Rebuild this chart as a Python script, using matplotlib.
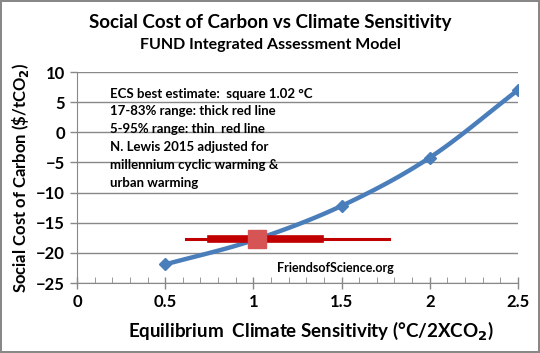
import matplotlib
matplotlib.use("Agg")
import matplotlib.pyplot as plt
import numpy as np

# SCC curve (FUND model) vs ECS
ecs = [0.5, 1.0, 1.5, 2.0, 2.5]
scc = [-21.9, -17.9, -12.2, -4.2, 7.0]

# Lewis 2015 adjusted estimate
best_ecs = 1.02
best_scc = -17.7
range_17_83 = [0.76, 1.38]
range_5_95 = [0.62, 1.77]

note_lines = [
    "ECS best estimate:  square 1.02 \u00b0C",
    "17-83% range: thick red line",
    "5-95% range: thin  red line",
    "N. Lewis 2015 adjusted for",
    "millennium cyclic warming &",
    "urban warming",
]


def smooth(x, y, n=30):
    # Catmull-Rom style path through the points (like Excel smoothed lines)
    x = np.asarray(x, float)
    y = np.asarray(y, float)
    px = np.concatenate([[2 * x[0] - x[1]], x, [2 * x[-1] - x[-2]]])
    py = np.concatenate([[2 * y[0] - y[1]], y, [2 * y[-1] - y[-2]]])
    xs, ys = [], []
    t = np.linspace(0, 1, n)
    for i in range(1, len(px) - 2):
        for p, out in ((px, xs), (py, ys)):
            p0, p1, p2, p3 = p[i - 1], p[i], p[i + 1], p[i + 2]
            out.extend(0.5 * (2 * p1 + (-p0 + p2) * t + (2 * p0 - 5 * p1 + 4 * p2 - p3) * t ** 2
                              + (-p0 + 3 * p1 - 3 * p2 + p3) * t ** 3))
    return xs, ys


plt.rcParams['font.family'] = ['Lato', 'DejaVu Sans']
plt.rcParams['font.weight'] = 'bold'
plt.rcParams['axes.labelweight'] = 'bold'

fig = plt.figure(figsize=(5.4, 3.53), dpi=100)
fig.patch.set_edgecolor('#888888')
fig.patch.set_linewidth(1.5)
ax = fig.add_axes([0.1426, 0.198, 0.8164, 0.598])

blue = '#4a7ebb'
sx, sy = smooth(ecs, scc)
ax.plot(sx, sy, color=blue, lw=3.2, zorder=3, solid_capstyle='round')
ax.plot(ecs, scc, 'D', color=blue, ms=6.5, zorder=4)

ax.plot(range_5_95, [best_scc, best_scc], color='#c00000', lw=2.2, zorder=5)
ax.plot(range_17_83, [best_scc, best_scc], color='#c00000', lw=5.5, zorder=5)
ax.plot([best_ecs], [best_scc], 's', color='#d65454', ms=13, zorder=6)

ax.set_xlim(0, 2.5)
ax.set_ylim(-25, 10)
ax.set_xticks(np.arange(0, 2.51, 0.5))
ax.set_xticklabels(['0', '0.5', '1', '1.5', '2', '2.5'])
ax.set_xticks(np.arange(0, 2.51, 0.1), minor=True)
ax.set_yticks(np.arange(-25, 10.1, 5))
ax.grid(axis='y', color='#888888', lw=1)
ax.set_axisbelow(True)
for s in ['top', 'right']:
    ax.spines[s].set_visible(False)
ax.spines['left'].set_color('#888888')
ax.spines['bottom'].set_color('#888888')
ax.tick_params(axis='both', which='major', labelsize=12, color='#888888', length=5, width=1)
ax.tick_params(axis='x', which='major', direction='inout', length=8)
ax.tick_params(axis='x', which='minor', direction='in', length=4, color='#888888')
ax.tick_params(axis='x', pad=4)

ax.set_xlabel('Equilibrium  Climate Sensitivity (\u00b0C/2XCO$_\\mathbf{2}$)', fontsize=13.5, labelpad=2)
ax.xaxis.set_label_coords(0.53, -0.17)
ax.set_ylabel('Social Cost of Carbon (\\$/tCO$_\\mathbf{2}$)', fontsize=12, labelpad=4)

fig.text(0.5, 0.922, 'Social Cost of Carbon vs Climate Sensitivity', ha='center', fontsize=13.5)
fig.text(0.5, 0.862, 'FUND Integrated Assessment Model', ha='center', fontsize=11.5)

for i, line in enumerate(note_lines):
    fig.text(0.203, 0.735 - i * 0.0505, line, fontsize=9.5, va='center')

fig.text(0.513, 0.24, 'FriendsofScience.org', fontsize=9, va='center')

fig.savefig('out.png', dpi=100)
